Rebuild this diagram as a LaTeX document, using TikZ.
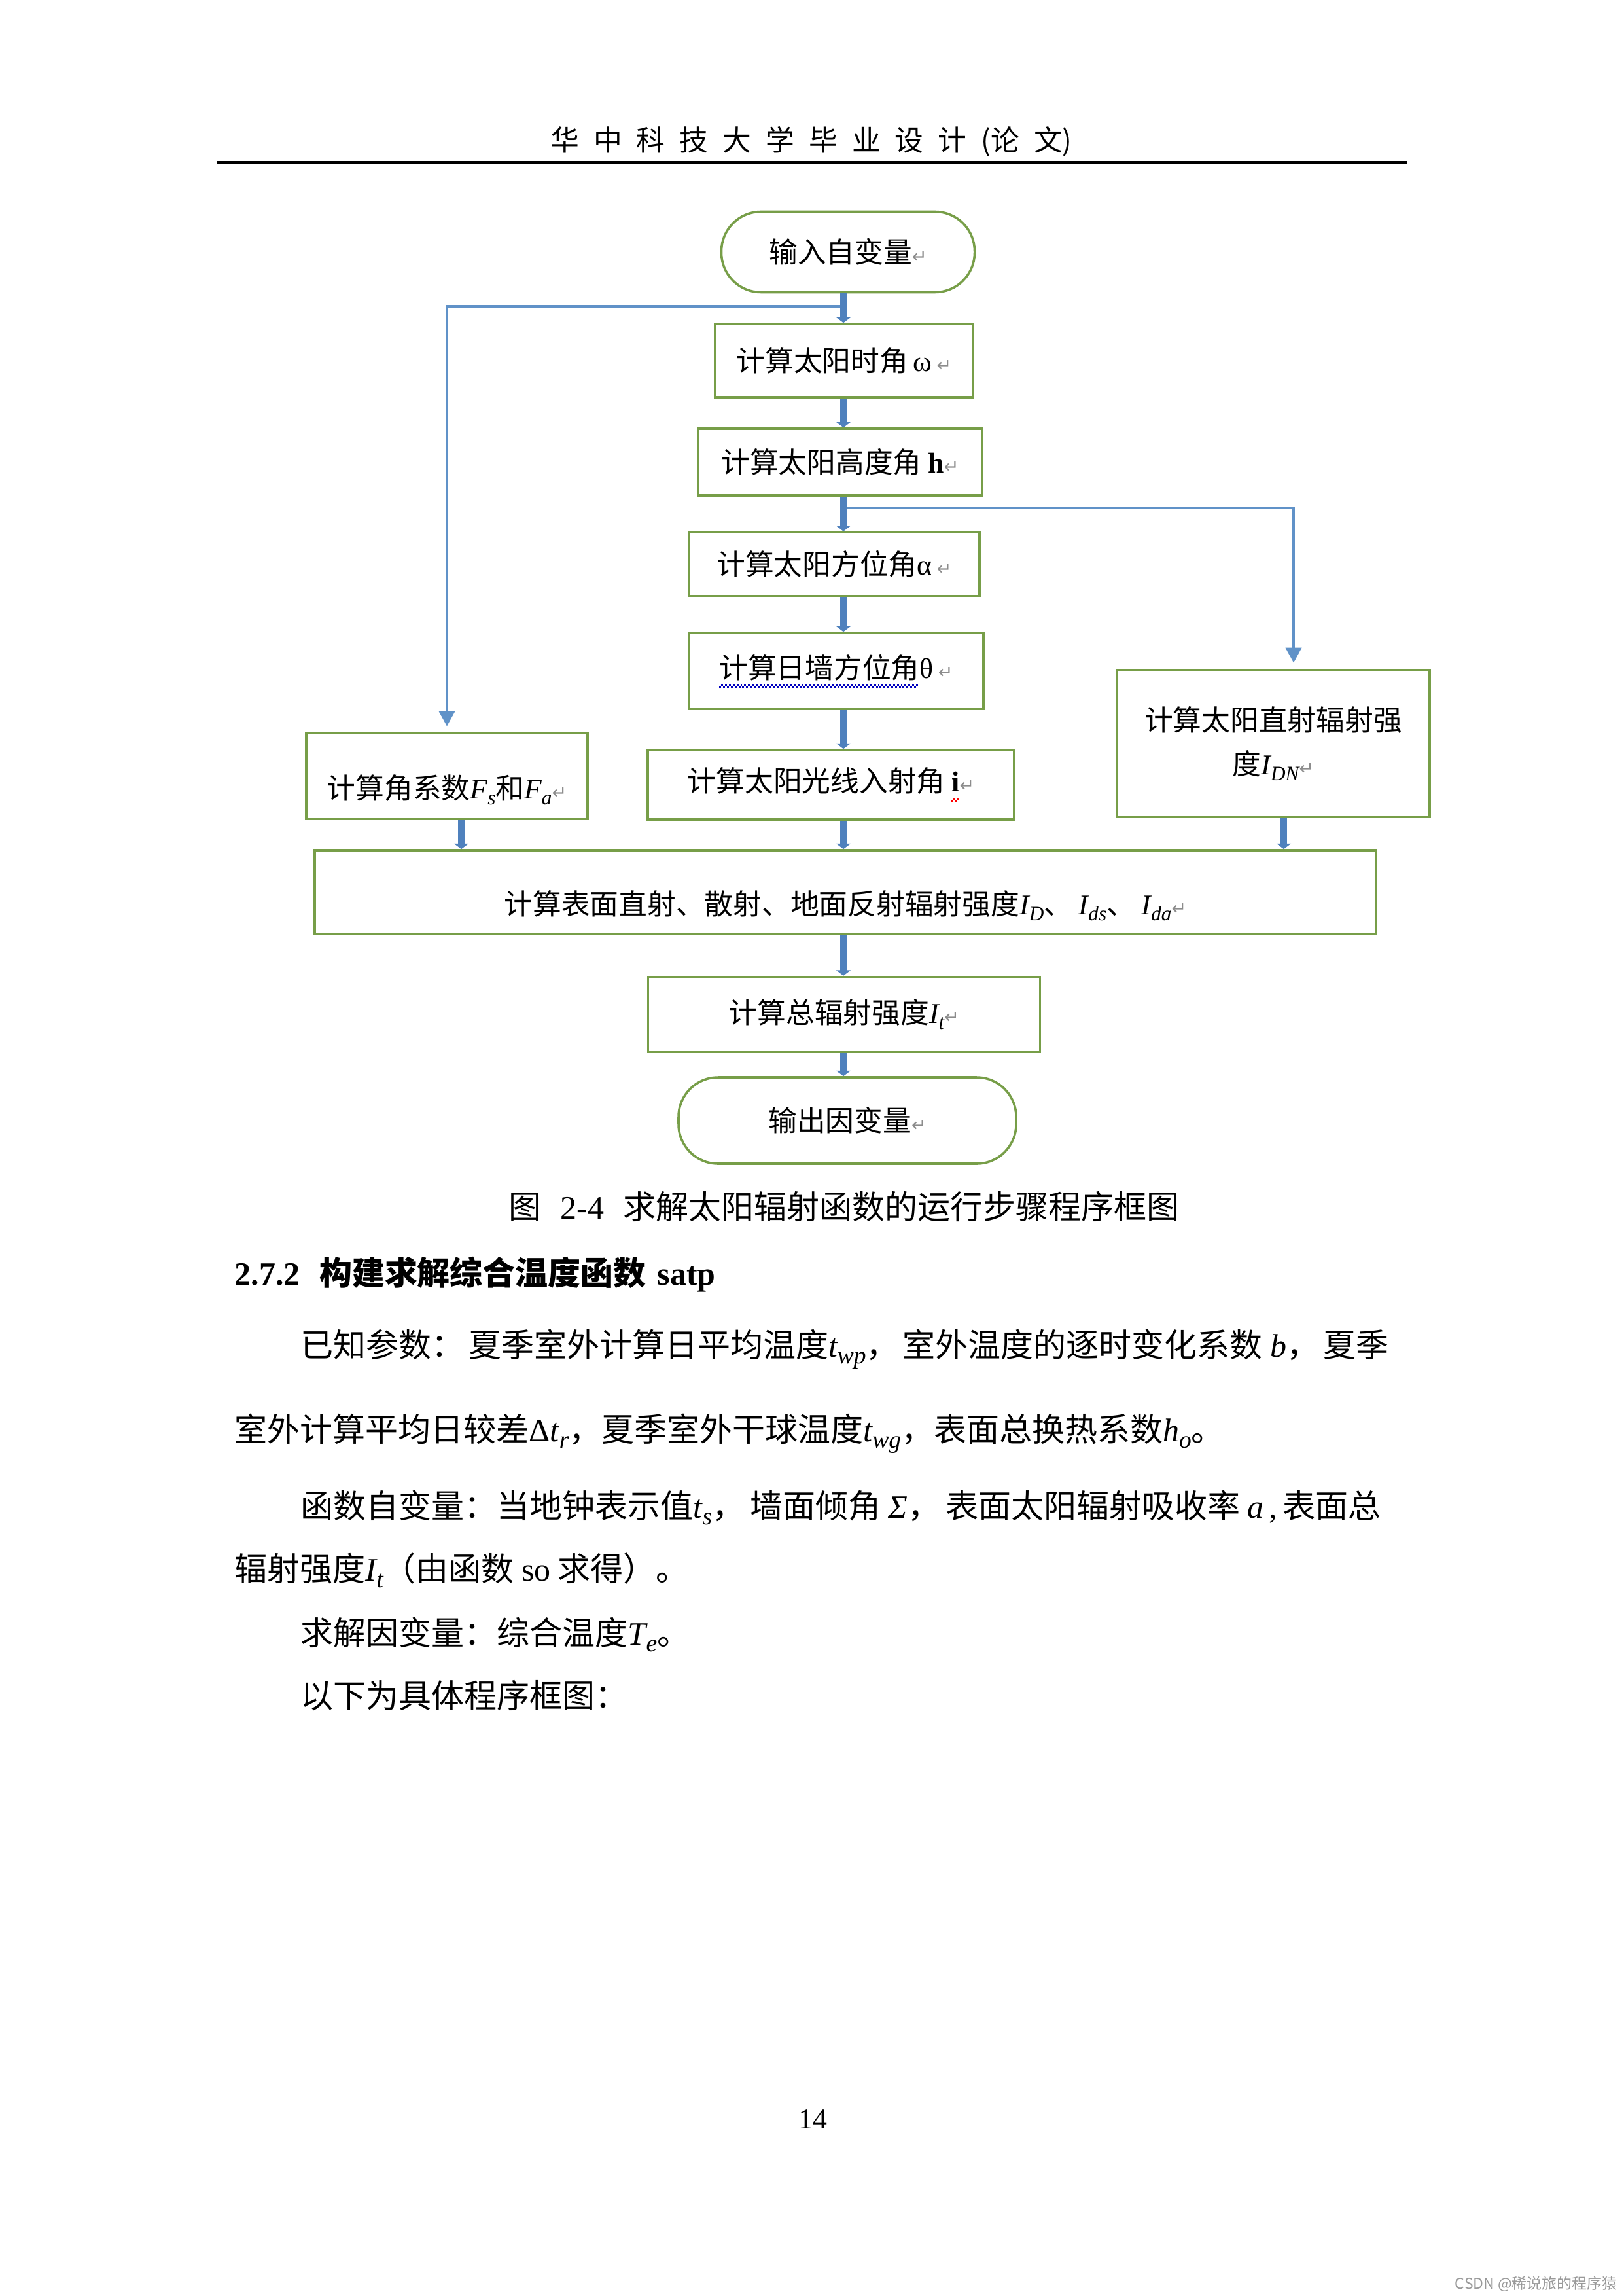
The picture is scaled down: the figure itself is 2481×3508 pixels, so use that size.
\documentclass[tikz,border=0pt]{standalone}
\usepackage{fontspec}
\setmainfont{Noto Sans CJK SC}
\newfontfamily\lat{Liberation Serif}
\newfontfamily\dvs{DejaVu Sans}
\usetikzlibrary{arrows.meta}
\definecolor{gbox}{RGB}{119,158,72}
\definecolor{tblue}{RGB}{79,129,189}
\definecolor{lblue}{RGB}{96,146,200}
\newcommand\retm{{\dvs\color{black!45}\fontsize{6.5pt}{6.5pt}\selectfont ↵}}
\newcommand\fv[2]{{\lat\itshape #1\raisebox{-0.45ex}{\fontsize{7.5pt}{7.5pt}\selectfont #2}}}
\newcommand\bv[2]{{\lat\itshape #1\raisebox{-0.45ex}{\fontsize{9pt}{9pt}\selectfont #2}}}
\newcommand\wavy[2]{\setbox0\hbox{#2}\rlap{\raisebox{-3.6pt}{\color{#1}\leaders\hbox{\rule{0.7pt}{0.7pt}\raisebox{0.7pt}{\rule{0.7pt}{0.7pt}}}\hskip\wd0}}\box0}
\newcommand\hsp{\hspace{5.3pt}}
\begin{document}
\begin{tikzpicture}[x=0.24pt,y=-0.24pt,
  box/.style={draw=gbox,line width=0.85pt,fill=white,inner sep=0pt,align=center,font=\fontsize{10.5pt}{16pt}\selectfont},
  term/.style={box,rounded corners=14.5pt},
  wh/.style 2 args={minimum width=#1*0.24pt,minimum height=#2*0.24pt},
  lowtext/.style={text height=19pt,text depth=2.5pt},
  thk/.style={draw=tblue,line width=2.6pt,-{Triangle[width=5.2pt,length=2pt]}},
  thn/.style={draw=lblue,line width=0.8pt,-{Triangle[width=5.8pt,length=5.5pt]}},
  body/.style={inner sep=0pt,anchor=base west,font=\fontsize{12pt}{15pt}\selectfont},
]
\useasboundingbox[fill=white] (0,0) rectangle (2481,3508);

% header
\node[anchor=base,inner sep=0pt,font=\fontsize{10.5pt}{12pt}\selectfont] (hdr) at (1240,231)
  {华\hsp 中\hsp 科\hsp 技\hsp 大\hsp 学\hsp 毕\hsp 业\hsp 设\hsp 计\hsp (论\hsp 文)};
\draw[line width=1.1pt] (331,248) -- (2150,248);

% flowchart nodes
\node[term,wh={387}{123}] (st) at (1296,385) {输入自变量\retm};
\node[box,wh={395}{112}] (b1) at (1290,551) {计算太阳时角\,{\lat ω}\,\retm};
\node[box,wh={433}{102}] (b2) at (1284,706) {计算太阳高度角 {\lat\bfseries h}\retm};
\node[box,wh={444}{97}] (b3) at (1275,862) {计算太阳方位角{\lat α}\,\retm};
\node[box,wh={450}{116}] (b4) at (1278,1025) {\wavy{blue!75!black}{计算日墙方位角}{\lat θ}\,\retm};
\node[box,wh={560}{106}] (b5) at (1270,1199) {计算太阳光线入射角 \wavy{red}{{\lat\bfseries i}}\retm};
\node[box,lowtext,wh={430}{131}] (fs) at (683,1186) {计算角系数\fv{F}{s}和\fv{F}{a}\retm};
\node[box,wh={478}{225}] (idn) at (1946,1136) {计算太阳直射辐射强\\度\fv{I}{DN}\retm};
\node[box,lowtext,wh={1622}{128}] (big) at (1292,1363) {计算表面直射、散射、地面反射辐射强度\fv{I}{D}、 \fv{I}{ds}、 \fv{I}{da}\retm};
\node[box,wh={599}{115}] (tot) at (1290,1550) {计算总辐射强度\fv{I}{t}\retm};
\node[term,wh={516}{132}] (en) at (1295,1712) {输出因变量\retm};

% helper coordinates
\coordinate (mx) at (1289,0);
\coordinate (rx) at (1977,0);
\coordinate (lx2) at (705,0);
\coordinate (rx2) at (1962,0);
\coordinate (jl) at (1289,468);
\coordinate (jr) at (1289,776);

% branch connectors
\draw[thn,shorten >=2.2pt] (jl) -| (fs.north);
\draw[thn,shorten >=2.2pt] (jr) -| (idn.north -| rx);

% main connectors
\draw[thk] (st.south -| mx) -- (b1.north -| mx);
\draw[thk] (b1.south -| mx) -- (b2.north -| mx);
\draw[thk] (b2.south -| mx) -- (b3.north -| mx);
\draw[thk] (b3.south -| mx) -- (b4.north -| mx);
\draw[thk] (b4.south -| mx) -- (b5.north -| mx);
\draw[thk] (fs.south -| lx2) -- (big.north -| lx2);
\draw[thk] (b5.south -| mx) -- (big.north -| mx);
\draw[thk] (idn.south -| rx2) -- (big.north -| rx2);
\draw[thk] (big.south -| mx) -- (tot.north -| mx);
\draw[thk] (tot.south -| mx) -- (en.north -| mx);

% caption
\node[anchor=base,inner sep=0pt,font=\fontsize{12pt}{14pt}\selectfont] (cap) at (1290,1862)
  {图\hspace{7pt}{\lat 2-4}\hspace{7pt}求解太阳辐射函数的运行步骤程序框图};

% section heading
\node[body] (sec) at (358,1963) {{\lat\bfseries 2.7.2}\hspace{7pt}{\bfseries 构建求解综合温度函数}\hspace{4pt}{\lat\bfseries satp}};

% body text
\node[body] (l1) at (459,2073) {\hbox to 399pt{已知参数：\hfil 夏季室外计算日平均温度\bv{t}{wp}，\hfil 室外温度的逐时变化系数 {\lat\itshape b}，\hfil 夏季}};
\node[body] (l2) at (358,2202) {室外计算平均日较差{\lat Δ}\bv{t}{r}，夏季室外干球温度\bv{t}{wg}，表面总换热系数\bv{h}{o}。};
\node[body] (l3) at (459,2319) {\hbox to 396.2pt{函数自变量：当地钟表示值\bv{t}{s}，\hfil 墙面倾角 {\lat\itshape Σ}，\hfil 表面太阳辐射吸收率 {\lat\itshape a}\,{\lat ,}\,表面总}};
\node[body] (l4) at (358,2415) {辐射强度\bv{I}{t}（由函数 {\lat so} 求得）。};
\node[body] (l5) at (459,2513) {求解因变量：综合温度\bv{T}{e}。};
\node[body] (l6) at (459,2609) {以下为具体程序框图：};

% page number
\node[anchor=base,inner sep=0pt,font=\fontsize{10.5pt}{12pt}\selectfont] (pg) at (1242,3252) {{\lat 14}};

% watermark
\node[anchor=east,inner sep=0pt,text=black!40,font=\fontsize{5.5pt}{6pt}\selectfont] (wm) at (2472,3490) {CSDN @稀说旅的程序猿};
\end{tikzpicture}
\end{document}
